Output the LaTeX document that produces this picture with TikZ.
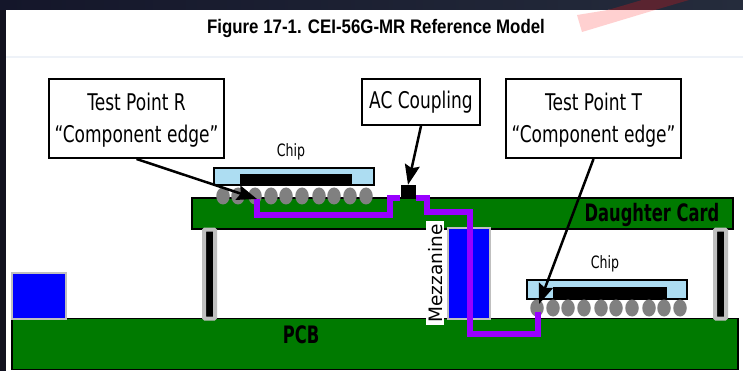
\documentclass[tikz,border=0pt]{standalone}
\usepackage{fontspec}
\setmainfont{DejaVu Sans}
\newfontfamily\boxfont[FakeStretch=0.74]{DejaVu Sans}
\newfontfamily\cardfont[FakeStretch=0.68]{DejaVu Sans}
\newfontfamily\titlefont[FakeStretch=0.86]{Liberation Sans}
\usetikzlibrary{arrows.meta, shapes.geometric}
\definecolor{boardgreen}{HTML}{007A00}
\definecolor{tracepurple}{HTML}{9900FF}
\definecolor{packageblue}{HTML}{ADDDF2}
\definecolor{edgegray}{HTML}{BFBFBF}
\definecolor{ballgray}{HTML}{808080}
\definecolor{pageleft}{HTML}{14162A}
\definecolor{pageright}{HTML}{252C3C}
\definecolor{pagestrip}{HTML}{12121F}
\definecolor{streakpink}{HTML}{FFD0D0}
\definecolor{streakdark}{HTML}{5A2430}
\definecolor{ruleline}{HTML}{EEF2F8}
\newcommand{\calloutstrut}{\rule{0pt}{21pt}}

\begin{document}
\begin{tikzpicture}[x=1pt, y=-1pt,
	callout/.style={draw=black, line width=2pt, fill=white, align=center, inner sep=0pt, font=\boxfont\fontsize{23}{32}\selectfont},
	board/.style={draw=black, line width=1.5pt, fill=boardgreen, inner sep=0pt},
	bluebox/.style={draw=edgegray, line width=2.5pt, fill=blue, inner sep=0pt},
	package/.style={draw=black, line width=1.5pt, fill=packageblue, inner sep=0pt},
	die/.style={fill=black, inner sep=0pt},
	ball/.style={ellipse, fill=ballgray, minimum width=13.5pt, minimum height=17pt, inner sep=0pt},
	standoff/.style={draw=edgegray, line width=4pt, fill=black, rounded corners=1pt, inner sep=0pt, minimum width=11pt, minimum height=89pt},
	pointer/.style={-{Stealth[length=20pt, width=15pt, inset=3pt]}, line width=2.5pt},
	trace/.style={draw=tracepurple, line width=5.5pt, line join=miter},
	boardlabel/.style={font=\cardfont\bfseries\fontsize{24}{26}\selectfont, inner sep=0pt},
	chiplabel/.style={font=\boxfont\fontsize{17}{19}\selectfont, inner sep=0pt}]
	\useasboundingbox (0, 0) rectangle (743, 371);
	% Page behind the figure:
	\shade[left color=pageleft, right color=pageright] (0, 0) rectangle (743, 10);
	\fill[pagestrip] (0, 10) rectangle (6, 371);
	\fill[white] (6, 10) rectangle (743, 371);
	\fill[streakpink] (577, 15) -- (582, 32) -- (655, 10) -- (608, 10) -- cycle;
	\fill[streakdark] (608, 10) -- (655, 10) -- (689, 0) -- (642, 0) -- cycle;
	\fill[ruleline] (6, 56) rectangle (743, 58);
	\node[inner sep=0pt, font=\titlefont\bfseries\fontsize{19.6}{22}\selectfont] (title) at (376, 28){Figure 17-1. CEI-56G-MR Reference Model};
	% Boards and parts:
	\node[board, minimum width=726pt, minimum height=51pt] (pcb) at (375, 344){};
	\node[board, minimum width=541pt, minimum height=31pt] (daughter) at (462.5, 213.5){};
	\node[bluebox, minimum width=54pt, minimum height=46pt] (leftblock) at (39, 296){};
	\node[bluebox, minimum width=42pt, minimum height=91pt] (mezzblock) at (469, 273.5){};
	\node[standoff] (standl) at (209.5, 274){};
	\node[standoff] (standr) at (720.5, 274){};
	\node[fill=white, minimum width=18pt, minimum height=104pt, inner sep=0pt] (mezzbg) at (435, 273){};
	\node[rotate=90, inner sep=0pt, font=\fontsize{18.5}{20}\selectfont] (mezz) at (436, 273.5){Mezzanine};
	\node[boardlabel] (pcblabel) at (301, 335){PCB};
	\node[boardlabel] (daughterlabel) at (652, 215){Daughter Card};
	% Chips:
	\node[package, minimum width=160pt, minimum height=17pt] (packr) at (294, 176.5){};
	\node[die, minimum width=112pt, minimum height=10pt] (dier) at (296, 179){};
	\node[package, minimum width=160pt, minimum height=19pt] (packt) at (607, 289.5){};
	\node[die, minimum width=114pt, minimum height=11pt] (diet) at (610, 292.5){};
	\foreach \ballx [count=\i] in {223, 238, 255, 271, 286, 302, 319, 334, 350, 366}
		\node[ball] (ballr\i) at (\ballx, 196){};
	\foreach \ballx [count=\i] in {537, 553, 568, 584, 601, 616, 632, 649, 664, 680}
		\node[ball] (ballt\i) at (\ballx, 308){};
	\node[chiplabel] (chipr) at (291, 152){Chip};
	\node[chiplabel] (chipt) at (605, 264){Chip};
	\node[die, minimum width=15pt, minimum height=14pt] (accap) at (408, 192){};
	% Trace between the test points:
	\coordinate (tipr) at (257, 199);
	\coordinate (tipt) at (539, 304);
	\coordinate (traceend) at (538, 312);
	\draw[trace] (tipr) -- (257, 215) -- (390, 215) -- (390, 198) -- (accap.west |- 0, 198);
	\draw[trace] (accap.east |- 0, 198) -- (427, 198) -- (427, 212) -- (470, 212) -- (470, 334) -- (538, 334) -- (traceend);
	% Callouts:
	\node[callout, minimum width=175pt, minimum height=79pt] (testr) at (136.5, 118.5){\calloutstrut Test Point R\\“Component edge”};
	\node[callout, minimum width=118pt, minimum height=46pt] (accoupling) at (421, 102){AC Coupling};
	\node[callout, minimum width=175pt, minimum height=79pt] (testt) at (593.5, 118.5){\calloutstrut Test Point T\\“Component edge”};
	\draw[pointer] (testr.south) -- (tipr);
	\draw[pointer] (accoupling.south) -- (accap.north);
	\draw[pointer] (testt.south) -- (tipt);
\end{tikzpicture}
\end{document}
